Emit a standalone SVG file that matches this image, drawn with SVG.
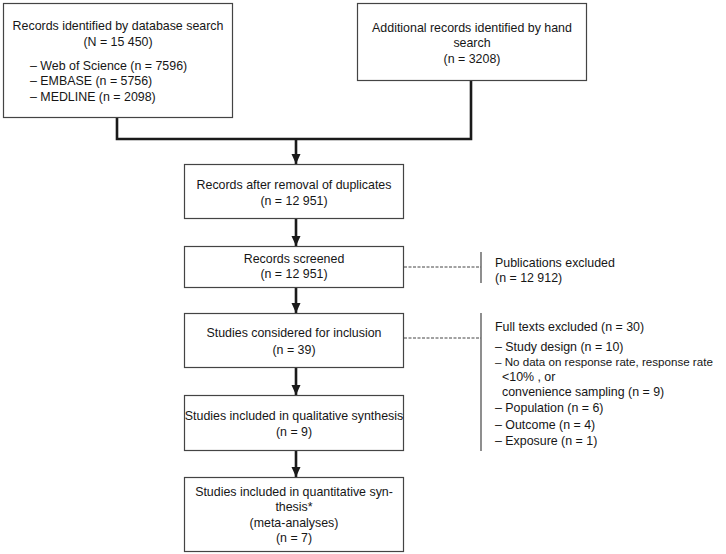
<svg xmlns="http://www.w3.org/2000/svg" width="726" height="554" viewBox="0 0 726 554">
<defs>
<style>
.box{fill:#fff;stroke:#444;stroke-width:1.2}
text{font-family:"Liberation Sans",Arial,sans-serif;font-size:12.4px;fill:#161616}
.c{text-anchor:middle}
.s{font-size:11.6px}
.flow{fill:none;stroke:#1a1a1a;stroke-width:2.6}
.dash{fill:none;stroke:#444;stroke-width:1;stroke-dasharray:3 1.5}
.bar{fill:none;stroke:#444;stroke-width:1.2}
</style>
<marker id="ah" viewBox="0 0 10 14" refX="10" refY="7" markerWidth="10" markerHeight="14" markerUnits="userSpaceOnUse" orient="auto">
<path d="M0,2.5 L10,7 L0,11.5 Z" fill="#1a1a1a"/>
</marker>
</defs>
<rect width="726" height="554" fill="#fff"/>
<g id="connectors">
<polyline class="flow" points="117,118 117,139 471,139 471,80"/>
<line class="flow" x1="296" y1="139" x2="296" y2="164" marker-end="url(#ah)"/>
<line class="flow" x1="296" y1="219" x2="296" y2="246" marker-end="url(#ah)"/>
<line class="flow" x1="296" y1="288" x2="296" y2="313" marker-end="url(#ah)"/>
<line class="flow" x1="296" y1="368" x2="296" y2="395" marker-end="url(#ah)"/>
<line class="flow" x1="296" y1="451" x2="296" y2="477" marker-end="url(#ah)"/>
<line class="dash" x1="404" y1="267" x2="481" y2="267"/>
<line class="dash" x1="404" y1="338" x2="481" y2="338"/>
<line class="bar" x1="481" y1="252" x2="481" y2="283"/>
<line class="bar" x1="481" y1="313" x2="481" y2="451"/>
</g>
<g id="n1">
<rect class="box" x="3.5" y="3.5" width="229" height="114"/>
<text class="c" x="118" y="30">Records identified by database search</text>
<text class="c" x="118" y="46">(N = 15 450)</text>
<text x="30" y="70">– Web of Science (n = 7596)</text>
<text x="30" y="85">– EMBASE (n = 5756)</text>
<text x="30" y="101">– MEDLINE (n = 2098)</text>
</g>
<g id="n2">
<rect class="box" x="357.5" y="3.5" width="229" height="77"/>
<text class="c" x="472" y="32">Additional records identified by hand</text>
<text class="c" x="472" y="47">search</text>
<text class="c" x="472" y="63">(n = 3208)</text>
</g>
<g id="n3">
<rect class="box" x="184.5" y="164.5" width="219" height="54"/>
<text class="c" x="294" y="189">Records after removal of duplicates</text>
<text class="c" x="294" y="205">(n = 12 951)</text>
</g>
<g id="n4">
<rect class="box" x="184.5" y="246.5" width="219" height="41"/>
<text class="c" x="294" y="263">Records screened</text>
<text class="c" x="294" y="278">(n = 12 951)</text>
</g>
<g id="n5">
<rect class="box" x="184.5" y="313.5" width="219" height="54"/>
<text class="c" x="294" y="337">Studies considered for inclusion</text>
<text class="c" x="294" y="354">(n = 39)</text>
</g>
<g id="n6">
<rect class="box" x="184.5" y="395.5" width="219" height="55"/>
<text class="c" x="294" y="420">Studies included in qualitative synthesis</text>
<text class="c" x="294" y="436">(n = 9)</text>
</g>
<g id="n7">
<rect class="box" x="184.5" y="477.5" width="219" height="74"/>
<text class="c" x="294" y="496">Studies included in quantitative syn-</text>
<text class="c" x="294" y="511">thesis*</text>
<text class="c" x="294" y="527">(meta-analyses)</text>
<text class="c" x="294" y="542">(n = 7)</text>
</g>
<g id="n8">
<text x="495" y="267">Publications excluded</text>
<text x="495" y="282">(n = 12 912)</text>
</g>
<g id="n9">
<text x="495" y="331">Full texts excluded (n = 30)</text>
<text x="495" y="351">– Study design (n = 10)</text>
<text class="s" x="495" y="366">– No data on response rate, response rate</text>
<text x="502" y="381">&lt;10% , or</text>
<text x="502" y="396">convenience sampling (n = 9)</text>
<text x="495" y="412">– Population (n = 6)</text>
<text x="495" y="429">– Outcome (n = 4)</text>
<text x="495" y="445">– Exposure (n = 1)</text>
</g>
</svg>
